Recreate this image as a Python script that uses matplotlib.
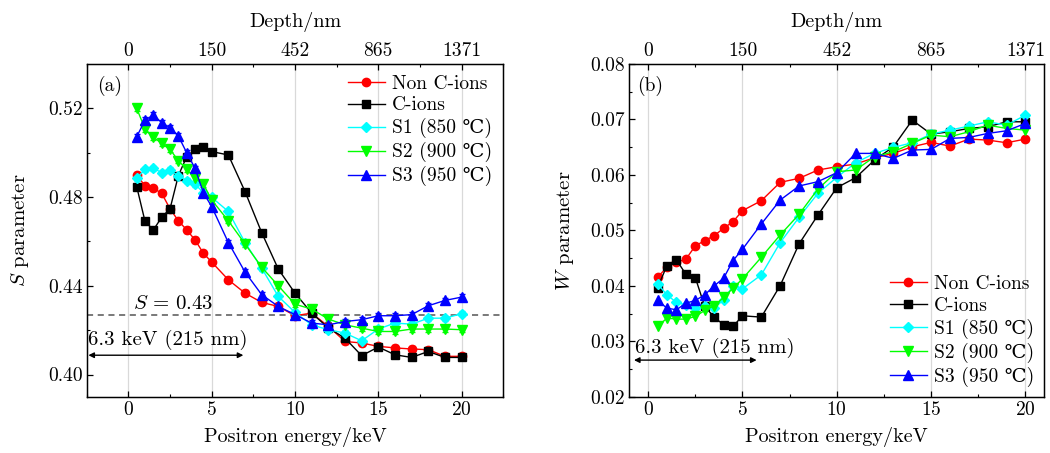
import matplotlib
matplotlib.use("Agg")
import matplotlib.pyplot as plt
from matplotlib.ticker import MultipleLocator, FixedLocator

plt.rcParams['font.family'] = ['cmr10', 'DejaVu Serif']
plt.rcParams['mathtext.fontset'] = 'cm'
plt.rcParams['axes.unicode_minus'] = False
plt.rcParams['axes.formatter.use_mathtext'] = True

energy = [0.5, 1, 1.5, 2, 2.5, 3, 3.5, 4, 4.5, 5,
          6, 7, 8, 9, 10, 11, 12, 13, 14, 15, 16, 17, 18, 19, 20]

depth_ticks_energy = [0, 5, 10, 15, 20]
depth_labels = ['0', '150', '452', '865', '1371']

labels = ['Non C-ions', 'C-ions', 'S1 (850 \u2103)', 'S2 (900 \u2103)', 'S3 (950 \u2103)']

# S parameter
s_non = [0.490, 0.485, 0.484, 0.4817, 0.4747, 0.4693, 0.4652, 0.4607, 0.4547, 0.4507,
         0.4427, 0.4367, 0.4325, 0.4307, 0.4265, 0.4277, 0.4217, 0.4149, 0.4142, 0.4127,
         0.4120, 0.4115, 0.4112, 0.4082, 0.4082]
s_c = [0.4847, 0.4690, 0.4652, 0.4709, 0.4747, 0.4897, 0.4982, 0.5015, 0.5024, 0.5005,
       0.4990, 0.4825, 0.4640, 0.4475, 0.4367, 0.4277, 0.4210, 0.4164, 0.4085, 0.4124,
       0.4089, 0.4077, 0.4104, 0.4077, 0.4077]
s_s1 = [0.4885, 0.4925, 0.4930, 0.4910, 0.4922, 0.4895, 0.4874, 0.4859, 0.4820, 0.4799,
        0.4735, 0.4595, 0.4480, 0.4352, 0.4280, 0.4224, 0.4202, 0.4187, 0.4152, 0.4205,
        0.4232, 0.4227, 0.4254, 0.4254, 0.4274]
s_s2 = [0.5200, 0.5107, 0.5070, 0.5042, 0.5015, 0.4964, 0.4925, 0.4885, 0.4859, 0.4787,
        0.4693, 0.4589, 0.4484, 0.4400, 0.4317, 0.4295, 0.4250, 0.4224, 0.4209, 0.4194,
        0.4194, 0.4205, 0.4205, 0.4205, 0.4202]
s_s3 = [0.5072, 0.5147, 0.5170, 0.5135, 0.5113, 0.5075, 0.5000, 0.4930, 0.4820, 0.4757,
        0.4595, 0.4462, 0.4360, 0.4307, 0.4270, 0.4232, 0.4224, 0.4239, 0.4247, 0.4265,
        0.4265, 0.4270, 0.4310, 0.4334, 0.4349]
s_err = 0.0012

# W parameter
w_non = [0.04155, 0.04335, 0.04425, 0.0448, 0.0472, 0.04815, 0.04905, 0.05037, 0.05157, 0.05355,
         0.05535, 0.05866, 0.05938, 0.06088, 0.06148, 0.06196, 0.0631, 0.06388, 0.06508, 0.06586,
         0.0652, 0.06646, 0.06628, 0.0658, 0.06646]
w_c = [0.03969, 0.04365, 0.04467, 0.04209, 0.04149, 0.03627, 0.03435, 0.03297, 0.03267, 0.03459,
       0.03435, 0.04005, 0.04755, 0.05277, 0.0577, 0.0595, 0.06268, 0.06508, 0.06988, 0.06736,
       0.06778, 0.06838, 0.06868, 0.06958, 0.06958]
w_s1 = [0.04035, 0.03837, 0.03699, 0.03657, 0.03597, 0.03627, 0.03597, 0.03747, 0.03999, 0.03945,
        0.04197, 0.04779, 0.05235, 0.05668, 0.05956, 0.0622, 0.06388, 0.06496, 0.0658, 0.06736,
        0.06808, 0.0688, 0.06958, 0.06898, 0.07078]
w_s2 = [0.03267, 0.03417, 0.03399, 0.03399, 0.03447, 0.03555, 0.03639, 0.03789, 0.03957, 0.04125,
        0.04515, 0.04917, 0.05289, 0.05745, 0.06058, 0.06088, 0.06328, 0.06418, 0.06568, 0.06718,
        0.06688, 0.06778, 0.06898, 0.06838, 0.06808]
w_s3 = [0.03735, 0.03597, 0.03567, 0.03687, 0.03735, 0.03837, 0.03999, 0.04137, 0.04455, 0.04659,
        0.05115, 0.05547, 0.05800, 0.05878, 0.0604, 0.06388, 0.06388, 0.06298, 0.06448, 0.0646,
        0.06658, 0.06676, 0.06748, 0.06796, 0.06928]

colors = ['#ff0000', '#000000', '#00ffff', '#00ff00', '#0000ff']
markers = ['o', 's', 'D', 'v', '^']
msizes = [6, 6, 5.5, 6.5, 6.5]

fig = plt.figure(figsize=(10.5, 4.53), dpi=100)
axA = fig.add_axes([0.0826, 0.1243, 0.3967, 0.7344])
axB = fig.add_axes([0.5993, 0.1243, 0.3953, 0.7344])

FS = 14      # tick labels / legend
FXL = 14.5   # x labels
FYL = 15     # y labels


def style(ax, xlim, ylim):
    ax.set_xlim(*xlim)
    ax.set_ylim(*ylim)
    ax.xaxis.set_major_locator(MultipleLocator(5))
    ax.xaxis.set_minor_locator(MultipleLocator(2.5))
    ax.tick_params(which='both', direction='in', top=False, right=False,
                   labelsize=FS, pad=3)
    ax.tick_params(which='major', length=4, width=0.9)
    ax.tick_params(which='minor', length=2.5, width=0.8)
    ax.grid(axis='x', which='major', color='#d9d9d9', linewidth=0.9)
    ax.set_axisbelow(True)
    for sp in ax.spines.values():
        sp.set_linewidth(1.0)
    ax.set_xlabel('Positron energy/keV', fontsize=FXL, labelpad=6)
    top = ax.twiny()
    top.set_xlim(*xlim)
    top.xaxis.set_major_locator(FixedLocator(depth_ticks_energy))
    top.xaxis.set_minor_locator(MultipleLocator(2.5))
    top.set_xticklabels(depth_labels)
    top.tick_params(which='both', direction='in', labelsize=FS, pad=3)
    top.tick_params(which='major', length=4, width=0.9)
    top.tick_params(which='minor', length=2.5, width=0.8)
    top.set_xlabel('Depth/nm', fontsize=FXL, labelpad=11)
    return top


# Panel (a)
style(axA, (-2.5, 22.5), (0.39, 0.54))
axA.yaxis.set_major_locator(FixedLocator([0.40, 0.44, 0.48, 0.52]))
axA.yaxis.set_minor_locator(FixedLocator([0.42, 0.46, 0.50]))
axA.set_yticklabels(['0.40', '0.44', '0.48', '0.52'])
handlesA = []
for ys, c, m, ms, lab in zip([s_non, s_c, s_s1, s_s2, s_s3], colors, markers, msizes, labels):
    cont = axA.errorbar(energy, ys, yerr=s_err, color=c, marker=m, markersize=ms,
                        linewidth=1.0, capsize=2.5, elinewidth=0.8, label=lab)
    handlesA.append(cont[0])
axA.axhline(0.427, color='#555555', linestyle=(0, (4, 3)), linewidth=1.1)
axA.text(0.25, 0.4295, r'$S\,=\,0.43$', fontsize=15)
axA.annotate('', xy=(-2.4, 0.4087), xytext=(6.9, 0.4087),
             arrowprops=dict(arrowstyle='<|-|>', color='black', lw=1.0,
                             mutation_scale=8, shrinkA=0, shrinkB=0))
axA.text(-2.4, 0.4157, '6.3 keV (215 nm)', fontsize=15, va='center', ha='left')
axA.text(0.025, 0.92, '(a)', transform=axA.transAxes, fontsize=FS)
axA.set_ylabel(r'$S$ parameter', fontsize=FYL, labelpad=12)
axA.legend(handlesA, labels, loc='upper right', frameon=False, fontsize=FS,
           handlelength=1.9, handletextpad=0.4, labelspacing=0.2,
           borderaxespad=0.15)

# Panel (b)
style(axB, (-1, 21), (0.02, 0.08))
axB.yaxis.set_major_locator(MultipleLocator(0.01))
axB.yaxis.set_minor_locator(MultipleLocator(0.005))
axB.yaxis.set_major_formatter(matplotlib.ticker.FuncFormatter(lambda v, p: f'{v:.2f}'))
for ys, c, m, ms, lab in zip([w_non, w_c, w_s1, w_s2, w_s3], colors, markers, msizes, labels):
    axB.plot(energy, ys, color=c, marker=m, markersize=ms, linewidth=1.0, label=lab)
axB.annotate('', xy=(-0.75, 0.0266), xytext=(5.75, 0.0266),
             arrowprops=dict(arrowstyle='<|-|>', color='black', lw=1.0,
                             mutation_scale=8, shrinkA=0, shrinkB=0))
axB.text(-0.7, 0.0288, '6.3 keV (215 nm)', fontsize=15, va='center', ha='left')
axB.text(0.02, 0.92, '(b)', transform=axB.transAxes, fontsize=FS)
axB.set_ylabel(r'$W$ parameter', fontsize=FYL, labelpad=10)
axB.legend(loc='lower right', frameon=False, fontsize=FS,
           handlelength=1.9, handletextpad=0.4, labelspacing=0.2,
           borderaxespad=0.1)

fig.savefig('out.png', dpi=100)
